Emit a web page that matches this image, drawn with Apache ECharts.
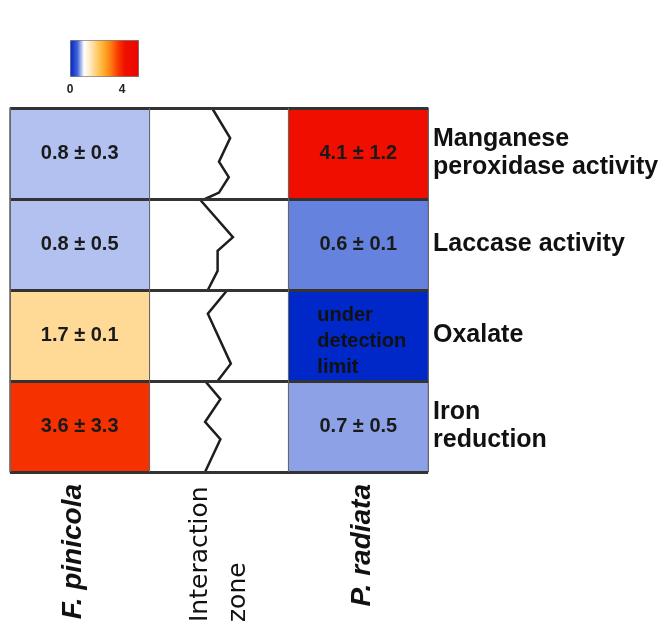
<!DOCTYPE html>
<html>
<head>
<meta charset="utf-8">
<script src="https://cdn.jsdelivr.net/npm/echarts@6/dist/echarts.min.js"></script>
<style>
  html, body { margin: 0; padding: 0; background: #fff; }
  #chart { width: 667px; height: 628px; }
</style>
</head>
<body>
<div id="chart"></div>
<script>
// Columns: the two fungi and the zone where they meet
const columns = ['F. pinicola', 'Interaction zone', 'P. radiata'];
// Measured parameters (rows, top to bottom)
const parameters = ['Manganese\nperoxidase activity', 'Laccase activity', 'Oxalate', 'Iron\nreduction'];

// Mean values (drive the cell colour) and the printed mean ± SD
const pinicolaMeans = [0.8, 0.8, 1.7, 3.6];
const pinicolaText = ['0.8 ± 0.3', '0.8 ± 0.5', '1.7 ± 0.1', '3.6 ± 3.3'];
const radiataMeans = [4.1, 0.6, 0, 0.7];
const radiataText = ['4.1 ± 1.2', '0.6 ± 0.1', 'under\ndetection\nlimit', '0.7 ± 0.5'];

// Colour scale range and its tick labels
const scaleMin = 0;
const scaleMax = 5;
const scaleTicks = [0, 4];

// Jagged boundary drawn in each interaction-zone cell, as fractions of the cell (x, y)
const zigzagShapes = [
  [[0.45, 0.0], [0.58, 0.33], [0.50, 0.59], [0.57, 0.76], [0.50, 0.93], [0.40, 1.0]],
  [[0.36, 0.0], [0.60, 0.42], [0.49, 0.57], [0.49, 0.79], [0.42, 1.0]],
  [[0.56, 0.0], [0.42, 0.26], [0.585, 0.81], [0.49, 1.0]],
  [[0.40, 0.0], [0.51, 0.20], [0.40, 0.45], [0.51, 0.64], [0.40, 1.0]]
];

const heatData = [];
pinicolaMeans.forEach((v, r) => heatData.push({ value: [0, r, v], text: pinicolaText[r] }));
radiataMeans.forEach((v, r) => heatData.push({ value: [2, r, v], text: radiataText[r] }));

const chart = echarts.init(document.getElementById('chart'), null, { renderer: 'canvas' });

const option = {
  backgroundColor: '#ffffff',
  animation: false,
  grid: [
    { left: 10, right: 239, top: 108, bottom: 156, outerBoundsMode: 'none', containLabel: false },
    { left: 70, width: 65, top: 80, height: 1, outerBoundsMode: 'none', containLabel: false }
  ],
  xAxis: [
    {
      type: 'category',
      gridIndex: 0,
      data: columns,
      position: 'bottom',
      z: 10,
      axisLine: { show: false },
      axisTick: { show: false },
      splitLine: { show: true, lineStyle: { color: '#666', width: 1 } },
      axisLabel: {
        rotate: 90,
        margin: 12,
        interval: 0,
        color: '#111',
        formatter: function (v) {
          if (v === 'F. pinicola') return '{fp|' + v + '}';
          if (v === 'P. radiata') return '{pr|' + v + '}';
          return '{iz|Interaction}\n{iz|zone}';
        },
        rich: {
          fp: { fontFamily: 'Liberation Sans', fontSize: 28, fontWeight: 'bold', fontStyle: 'italic', color: '#111', padding: [0, 0, 12, 0] },
          pr: { fontFamily: 'Liberation Sans', fontSize: 28, fontWeight: 'bold', fontStyle: 'italic', color: '#111', padding: [8, 0, 0, 0] },
          iz: { fontFamily: 'DejaVu Sans', fontSize: 25, color: '#111', width: 138, align: 'left', lineHeight: 38 }
        }
      }
    },
    {
      type: 'value',
      gridIndex: 1,
      min: scaleMin,
      max: scaleMax,
      interval: scaleTicks[1] - scaleTicks[0],
      axisLine: { show: false },
      axisTick: { show: false },
      splitLine: { show: false },
      axisLabel: {
        margin: 3,
        fontFamily: 'Liberation Sans',
        fontSize: 12,
        fontWeight: 'bold',
        color: '#222',
        formatter: v => (scaleTicks.indexOf(v) >= 0 ? String(v) : '')
      }
    }
  ],
  yAxis: [
    {
      type: 'category',
      gridIndex: 0,
      data: parameters,
      inverse: true,
      position: 'right',
      z: 10,
      axisLine: { show: false },
      axisTick: { show: false },
      splitLine: { show: true, lineStyle: { color: '#333', width: 3 } },
      axisLabel: {
        margin: 5,
        align: 'left',
        fontFamily: 'Liberation Sans',
        fontSize: 25,
        fontWeight: 'bold',
        lineHeight: 28,
        color: '#111'
      }
    },
    { type: 'value', gridIndex: 1, show: false }
  ],
  visualMap: {
    type: 'continuous',
    seriesIndex: 0,
    min: scaleMin,
    max: scaleMax,
    orient: 'horizontal',
    left: 70,
    top: 40,
    itemWidth: 36,
    itemHeight: 68,
    padding: 0,
    text: ['', ''],
    calculable: false,
    hoverLink: false,
    borderColor: '#666',
    borderWidth: 1,
    inRange: {
      color: ['#0028c8', '#3f63d6', '#ffffff', '#ffe6b9', '#ffc864', '#ffa828',
              '#ff7810', '#f83a00', '#f00f00', '#ee0a00', '#eb0500']
    }
  },
  series: [
    {
      type: 'heatmap',
      xAxisIndex: 0,
      yAxisIndex: 0,
      data: heatData,
      itemStyle: { borderColor: '#666', borderWidth: 1 },
      emphasis: { disabled: true },
      label: {
        show: true,
        fontFamily: 'Liberation Sans',
        fontSize: 20,
        fontWeight: 'bold',
        color: '#1a1a1a',
        formatter: function (p) {
          const t = p.data.text;
          return t.indexOf('\n') >= 0 ? '{ud|' + t + '}' : t;
        },
        rich: {
          ud: { fontFamily: 'Liberation Sans', fontSize: 20, fontWeight: 'bold', color: '#111', width: 90, align: 'left', lineHeight: 26, padding: [12, 0, 0, 8] }
        }
      }
    },
    {
      type: 'custom',
      xAxisIndex: 0,
      yAxisIndex: 0,
      z: 5,
      data: zigzagShapes.map((s, r) => [1, r]),
      renderItem: function (params, api) {
        const row = api.value(1);
        const c = api.coord([api.value(0), row]);
        const sz = api.size([1, 1]);
        const pts = zigzagShapes[row].map(p => [c[0] + (p[0] - 0.5) * sz[0], c[1] + (p[1] - 0.5) * sz[1]]);
        return {
          type: 'polyline',
          shape: { points: pts },
          style: { stroke: '#1e1e1e', lineWidth: 2.5, fill: null, lineJoin: 'miter' }
        };
      }
    }
  ]
};

chart.setOption(option);
</script>
</body>
</html>
